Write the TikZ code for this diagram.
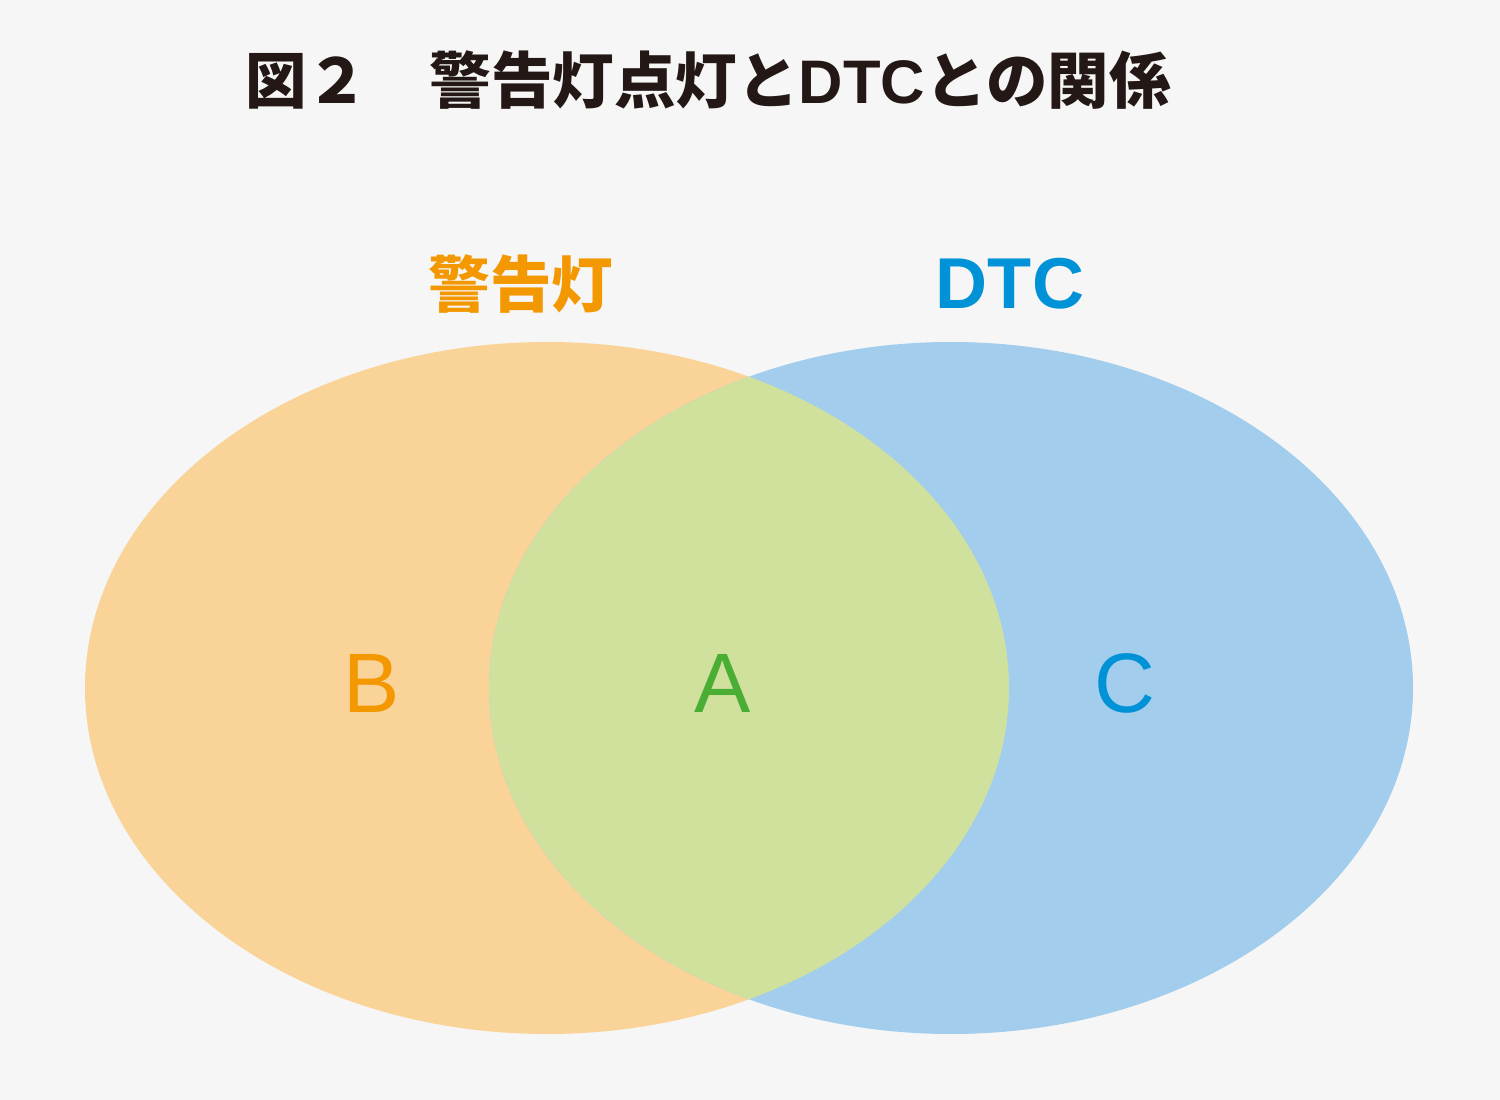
\documentclass[tikz,border=0pt]{standalone}
\usepackage{fontspec}
\setmainfont{Liberation Sans}
\setsansfont{Liberation Sans}
\newfontfamily\jpfont{Noto Sans CJK JP}
\usetikzlibrary{calc}

\definecolor{bgcol}{HTML}{F5F6F5}
\definecolor{lampfill}{HTML}{F9D397}
\definecolor{dtcfill}{HTML}{A3CDED}
\definecolor{bothfill}{HTML}{CFE19D}
\definecolor{lampcol}{HTML}{F39800}
\definecolor{dtccol}{HTML}{0092D6}
\definecolor{bothcol}{HTML}{4BAE34}
\definecolor{titlecol}{HTML}{231815}

\begin{document}
\begin{tikzpicture}[font=\sffamily]

	\def \rx{4.62};
	\def \ry{3.46};

	% background
	\fill[bgcol] (0,0) rectangle (15,-11);
	\useasboundingbox (0,0) rectangle (15,-11);

	\coordinate (lampXY) at (5.47,-6.88);
	\coordinate (dtcXY) at (9.51,-6.88);

	% sets
	\fill[lampfill] (lampXY) ellipse ({\rx} and {\ry});
	\fill[dtcfill] (dtcXY) ellipse ({\rx} and {\ry});
	\begin{scope}
		\clip (lampXY) ellipse ({\rx} and {\ry});
		\fill[bothfill] (dtcXY) ellipse ({\rx} and {\ry});
	\end{scope}

	% title
	\node[anchor=center, text=titlecol] (title) at (7.08,-0.8)
		{\jpfont\bfseries\fontsize{17.5}{20}\selectfont 図２　警告灯点灯と\sffamily DTC\jpfont との関係};

	% set names
	\node[anchor=center, text=lampcol] (lampname) at (5.21,-2.84)
		{\jpfont\bfseries\fontsize{17.5}{20}\selectfont 警告灯};
	\node[anchor=center, text=dtccol] (dtcname) at (10.1,-2.84)
		{\bfseries\fontsize{20.5}{24}\selectfont DTC};

	% regions
	\node[anchor=center, text=lampcol] (B) at (3.72,-6.83) {\fontsize{24}{28}\selectfont B};
	\node[anchor=center, text=bothcol] (A) at (7.23,-6.83) {\fontsize{24}{28}\selectfont A};
	\node[anchor=center, text=dtccol] (C) at (11.25,-6.83) {\fontsize{24}{28}\selectfont C};

\end{tikzpicture}
\end{document}
